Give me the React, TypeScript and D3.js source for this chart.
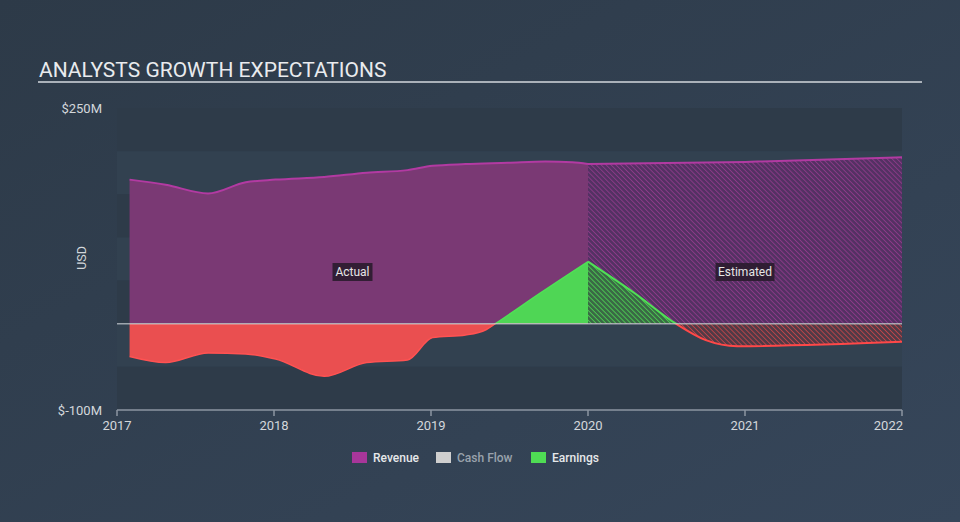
import * as d3 from 'd3'

// values in $M, x in fractional years
const revenueActualYears = [2017.08, 2017.31, 2017.58, 2017.82, 2018.01, 2018.32, 2018.59, 2018.85, 2019.01, 2019.22, 2019.49, 2019.73, 2019.9, 2020.0]
const revenueActual = [167, 161, 151, 164, 167, 170, 175, 178, 183, 185, 186.5, 188, 187, 185]
const revenueEstYears = [2020.0, 2021.0, 2022.0]
const revenueEst = [185, 187.5, 193]

const earningsActualYears = [2017.08, 2017.31, 2017.58, 2017.82, 2018.01, 2018.32, 2018.59, 2018.85, 2019.01, 2019.22, 2019.35, 2019.41, 2019.7, 2020.0]
const earningsActual = [-38, -45, -34, -35, -41, -61, -45, -42, -16, -13, -7, 0, 36, 72]
const earningsEstYears = [2020.0, 2020.3, 2020.56, 2020.75, 2020.95, 2022.0]
const earningsEst = [72, 35, 0, -19, -26, -21]

const yearTicks = [2017, 2018, 2019, 2020, 2021, 2022]
const bandEdges = [250, 200, 150, 100, 50, 0, -50, -100]
const legendItems = ['Revenue', 'Cash Flow', 'Earnings']
const legendColors = ['#a8369a', '#cfcfcf', '#4fdc54']

const W = 960, H = 522
const left = 117, right = 902, top = 108, bottom = 410

export default function App() {
  const x = d3.scaleLinear().domain([2017, 2022]).range([left, right])
  const y = d3.scaleLinear().domain([-100, 250]).range([bottom, top])
  const xSplit = x(2020)

  const pts = (xs: number[], vs: number[]) => xs.map((d, i) => [d, vs[i]] as [number, number])

  const area = d3.area<[number, number]>()
    .x(d => x(d[0]))
    .y0(y(0))
    .y1(d => y(d[1]))
    .curve(d3.curveMonotoneX)
  const line = d3.line<[number, number]>()
    .x(d => x(d[0]))
    .y(d => y(d[1]))
    .curve(d3.curveMonotoneX)

  const revA = pts(revenueActualYears, revenueActual)
  const revE = pts(revenueEstYears, revenueEst)
  const earA = pts(earningsActualYears, earningsActual)
  const earE = pts(earningsEstYears, earningsEst)

  const font = 'Roboto, "Noto Sans", sans-serif'

  return (
    <svg width={W} height={H} style={{ position: 'absolute', left: 0, top: 0 }} fontFamily={font}>
      <defs>
        <linearGradient id="bg" x1="0" y1="0" x2="1" y2="1">
          <stop offset="0" stopColor="#2d3a48" />
          <stop offset="1" stopColor="#36465a" />
        </linearGradient>
        <pattern id="hatchRev" width="3.5" height="3.5" patternUnits="userSpaceOnUse" patternTransform="rotate(-45)">
          <rect width="3.5" height="3.5" fill="#543163" />
          <line x1="0" y1="0" x2="0" y2="3.5" stroke="#8c3a88" strokeWidth="1.8" />
        </pattern>
        <pattern id="hatchGreen" width="3.5" height="3.5" patternUnits="userSpaceOnUse" patternTransform="rotate(-45)">
          <rect width="3.5" height="3.5" fill="#3a6a45" />
          <line x1="0" y1="0" x2="0" y2="3.5" stroke="#4fd454" strokeWidth="1.6" />
        </pattern>
        <pattern id="hatchRed" width="3.5" height="3.5" patternUnits="userSpaceOnUse" patternTransform="rotate(-45)">
          <rect width="3.5" height="3.5" fill="#513a46" />
          <line x1="0" y1="0" x2="0" y2="3.5" stroke="#c9464a" strokeWidth="1.6" />
        </pattern>
        <clipPath id="above"><rect x={0} y={0} width={W} height={y(0)} /></clipPath>
        <clipPath id="below"><rect x={0} y={y(0)} width={W} height={H} /></clipPath>
      </defs>

      <rect width={W} height={H} fill="url(#bg)" />

      {/* title */}
      <text x={39} y={77} fontSize={21} fill="#e9ebee">ANALYSTS GROWTH EXPECTATIONS</text>
      <line x1={38} x2={922} y1={82} y2={82} stroke="#aab1b9" strokeWidth={2} />

      {/* plot bands */}
      {bandEdges.slice(0, -1).map((v, i) => (
        <rect key={v} x={left} width={right - left} y={y(v)} height={y(bandEdges[i + 1]) - y(v)}
          fill={i % 2 === 0 ? '#2e3b49' : '#324150'} />
      ))}

      {/* revenue */}
      <path d={area(revA)!} fill="#7a3974" />
      <path d={area(revE)!} fill="url(#hatchRev)" />
      <path d={line(revA)!} fill="none" stroke="#b23aa2" strokeWidth={2} />
      <path d={line(revE)!} fill="none" stroke="#b23aa2" strokeWidth={2} />

      {/* earnings */}
      <path d={area(earA)!} fill="#4fd655" clipPath="url(#above)" />
      <path d={area(earA)!} fill="#ea4f50" clipPath="url(#below)" />
      <path d={area(earE)!} fill="url(#hatchGreen)" clipPath="url(#above)" />
      <path d={area(earE)!} fill="url(#hatchRed)" clipPath="url(#below)" />
      <path d={line(earA)!} fill="none" stroke="#4fe055" strokeWidth={1.5} clipPath="url(#above)" />
      <path d={line(earA)!} fill="none" stroke="#ff5252" strokeWidth={1.5} clipPath="url(#below)" />
      <path d={line(earE)!} fill="none" stroke="#4fe055" strokeWidth={2} clipPath="url(#above)" />
      <path d={line(earE)!} fill="none" stroke="#ff4848" strokeWidth={2} clipPath="url(#below)" />

      {/* zero line */}
      <line x1={left} x2={right} y1={y(0)} y2={y(0)} stroke="#d9dde2" strokeOpacity={0.65} strokeWidth={1.5} />

      {/* actual / estimated labels */}
      <rect x={(left + xSplit) / 2 - 20} y={263} width={40} height={18} fill="#2a1c2e" fillOpacity={0.9} />
      <text x={(left + xSplit) / 2} y={276} fontSize={12} fill="#e6e6e6" textAnchor="middle">Actual</text>
      <rect x={(xSplit + right) / 2 - 29.5} y={263} width={59} height={18} fill="#2a1c2e" fillOpacity={0.9} />
      <text x={(xSplit + right) / 2} y={276} fontSize={12} fill="#e6e6e6" textAnchor="middle">Estimated</text>

      {/* y labels */}
      <text x={102} y={113} fontSize={13} fill="#d3d7db" textAnchor="end">$250M</text>
      <text x={102} y={415} fontSize={13} fill="#d3d7db" textAnchor="end">$-100M</text>
      <text transform={`translate(86,${(top + bottom) / 2 - 1}) rotate(-90)`} fontSize={12.5} fill="#d3d7db" textAnchor="middle">USD</text>

      {/* x axis */}
      <line x1={left} x2={right} y1={bottom} y2={bottom} stroke="#8c96a2" strokeWidth={1.5} />
      {yearTicks.map((t, i) => (
        <g key={t}>
          <line x1={x(t)} x2={x(t)} y1={bottom} y2={bottom + 6} stroke="#8c96a2" strokeWidth={1.5} />
          <text x={i === yearTicks.length - 1 ? x(t) + 1 : x(t)} y={430} fontSize={13} fill="#d3d7db"
            textAnchor={i === yearTicks.length - 1 ? 'end' : 'middle'}>{t}</text>
        </g>
      ))}

      {/* legend */}
      {legendItems.map((name, i) => {
        const lx = [352, 436, 531][i]
        return (
          <g key={name}>
            <rect x={lx} y={452} width={15} height={11} fill={legendColors[i]} />
            <text x={lx + 21} y={462} fontSize={12} fontWeight={500}
              fill={name === 'Cash Flow' ? '#9aa2ac' : '#e6e8ea'}>{name}</text>
          </g>
        )
      })}
    </svg>
  )
}
